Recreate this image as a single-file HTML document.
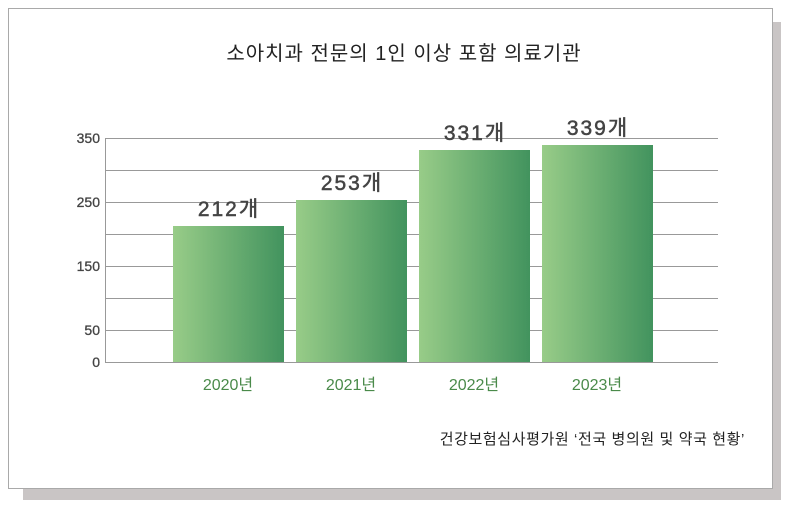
<!DOCTYPE html>
<html><head><meta charset="utf-8"><style>
body{margin:0;width:790px;height:511px;background:#fff;position:relative;overflow:hidden;font-family:"Liberation Sans","Noto Sans CJK KR",sans-serif}
.sh{position:absolute;left:23px;top:22px;width:758px;height:478px;background:#c9c5c5}
.box{position:absolute;left:8px;top:8px;width:763px;height:479px;background:#fff;border:1px solid #a9a9a9}
</style></head><body>
<div class="sh"></div><div class="box"></div>
<svg width="790" height="511" style="position:absolute;left:0;top:0">
<defs><linearGradient id="g" x1="0" x2="1" y1="0" y2="0"><stop offset="0" stop-color="#98cc88"/><stop offset="1" stop-color="#42935e"/></linearGradient></defs>
<text x="404" y="60" text-anchor="middle" font-size="20" letter-spacing="1" fill="#222" font-family="Liberation Sans,Noto Sans CJK KR,sans-serif">소아치과 전문의 1인 이상 포함 의료기관</text>
<g stroke="#999" stroke-width="1">
<line x1="105" y1="138.5" x2="718" y2="138.5"/><line x1="105" y1="170.5" x2="718" y2="170.5"/><line x1="105" y1="202.5" x2="718" y2="202.5"/><line x1="105" y1="234.5" x2="718" y2="234.5"/><line x1="105" y1="266.5" x2="718" y2="266.5"/><line x1="105" y1="298.5" x2="718" y2="298.5"/><line x1="105" y1="330.5" x2="718" y2="330.5"/><line x1="105" y1="362.5" x2="718" y2="362.5"/><line x1="105.5" y1="138" x2="105.5" y2="362"/>
</g>
<g font-size="14" fill="#444" text-anchor="end" font-family="Liberation Sans,sans-serif" stroke="#444" stroke-width="0.3">
<text x="100" y="143">350</text><text x="100" y="207">250</text><text x="100" y="271">150</text><text x="100" y="335">50</text><text x="100" y="367">0</text>
</g>
<rect x="173" y="226" width="111" height="136" fill="url(#g)"/>
<rect x="296" y="200" width="111" height="162" fill="url(#g)"/>
<rect x="419" y="150" width="111" height="212" fill="url(#g)"/>
<rect x="542" y="145" width="111" height="217" fill="url(#g)"/>
<g font-size="21" fill="#444" stroke="#444" stroke-width="0.5" letter-spacing="2" text-anchor="middle" font-family="Liberation Sans,Noto Sans CJK KR,sans-serif">
<text x="229" y="216">212개</text><text x="352" y="190">253개</text><text x="475" y="140">331개</text><text x="598" y="135">339개</text>
</g>
<g font-size="16" fill="#4a8a4a" text-anchor="middle" font-family="Liberation Sans,Noto Sans CJK KR,sans-serif">
<text x="228" y="390">2020년</text><text x="351" y="390">2021년</text><text x="474" y="390">2022년</text><text x="597" y="390">2023년</text>
</g>
<text x="745" y="444" text-anchor="end" font-size="15" letter-spacing="0.6" fill="#222" font-family="Liberation Sans,Noto Sans CJK KR,sans-serif">건강보험심사평가원 ‘전국 병의원 및 약국 현황’</text>
</svg>
</body></html>
